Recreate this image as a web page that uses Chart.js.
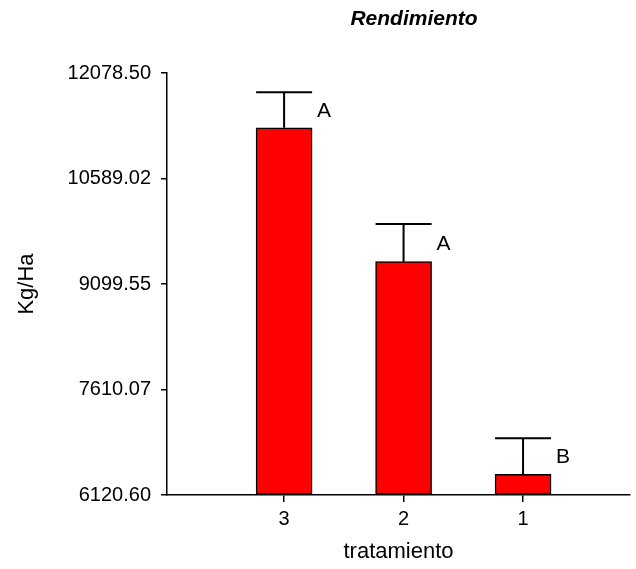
<!DOCTYPE html>
<html>
<head>
<meta charset="utf-8">
<script src="https://cdn.jsdelivr.net/npm/chart.js@4.4.1/dist/chart.umd.min.js"></script>
<style>
  html, body { margin: 0; padding: 0; background: #fff; }
  #wrap { width: 636px; height: 569px; }
</style>
</head>
<body>
<div id="wrap"><canvas id="barChart" width="636" height="569"></canvas></div>
<script>
// data
const categories = ["3", "2", "1"];
const positions = [1, 2, 3];
const means = [11306, 9415, 6413];
const errors = [500, 532, 508];
const letters = ["A", "A", "B"];
const yTicks = [6120.60, 7610.07, 9099.55, 10589.02, 12078.50];

const FONT = "'Liberation Sans', Arial, sans-serif";

// error bars + significance letters
const errorBars = {
    id: "errorBars",
    afterDatasetsDraw(chart) {
        const ctx = chart.ctx;
        const xs = chart.scales.x;
        const ys = chart.scales.y;
        ctx.save();
        ctx.strokeStyle = "#000";
        ctx.lineWidth = 2;
        ctx.fillStyle = "#000";
        ctx.font = "21px " + FONT;
        ctx.textBaseline = "middle";
        positions.forEach((p, i) => {
            const x = xs.getPixelForValue(p);
            const yBar = ys.getPixelForValue(means[i]);
            const yTop = ys.getPixelForValue(means[i] + errors[i]);
            ctx.beginPath();
            ctx.moveTo(x, yBar);
            ctx.lineTo(x, yTop);
            ctx.moveTo(x - 28, yTop);
            ctx.lineTo(x + 28, yTop);
            ctx.stroke();
            ctx.fillText(letters[i], x + 33, (yBar + yTop) / 2 + 1);
        });
        ctx.restore();
    }
};

// title drawn over the plot
const topTitle = {
    id: "topTitle",
    afterDraw(chart) {
        const ctx = chart.ctx;
        ctx.save();
        ctx.fillStyle = "#000";
        ctx.font = "italic bold 21px " + FONT;
        ctx.textAlign = "center";
        ctx.textBaseline = "middle";
        ctx.fillText("Rendimiento", 414, 19);
        ctx.restore();
    }
};

const ctx = document.getElementById("barChart").getContext("2d");
new Chart(ctx, {
    type: "bar",
    data: {
        datasets: [
            {
                data: positions.map((p, i) => ({ x: p, y: means[i] })),
                backgroundColor: "#FF0000",
                borderColor: "#000",
                borderWidth: 1.5,
                borderSkipped: false,
                barThickness: 56,
                base: yTicks[0],
            },
        ],
    },
    options: {
        responsive: false,
        animation: false,
        layout: { padding: { top: 73, right: 6, left: 0, bottom: 0 } },
        plugins: {
            legend: { display: false },
            tooltip: { enabled: false },
        },
        scales: {
            x: {
                type: "linear",
                offset: false,
                min: 0.02,
                max: 3.895,
                afterBuildTicks: (axis) => { axis.ticks = positions.map((v) => ({ value: v })); },
                afterFit: (axis) => { axis.height = 74; },
                ticks: {
                    color: "#000",
                    font: { family: FONT, size: 20 },
                    padding: 5,
                    callback: (v) => categories[positions.indexOf(v)],
                },
                grid: { offset: false, drawOnChartArea: false, drawTicks: true, tickLength: 7, color: "#000", lineWidth: 1.5 },
                border: { color: "#000", width: 1.5 },
                title: {
                    display: true,
                    text: "tratamiento",
                    color: "#000",
                    font: { family: FONT, size: 22 },
                    padding: { top: 4 },
                },
            },
            y: {
                min: yTicks[0],
                max: yTicks[yTicks.length - 1],
                afterBuildTicks: (axis) => { axis.ticks = yTicks.map((v) => ({ value: v })); },
                afterFit: (axis) => { axis.width = 167; },
                ticks: {
                    color: "#000",
                    font: { family: FONT, size: 20 },
                    padding: 10,
                    callback: (v) => v.toFixed(2),
                },
                grid: { drawOnChartArea: false, drawTicks: true, tickLength: 6, color: "#000", lineWidth: 1.5 },
                border: { color: "#000", width: 1.5 },
                title: {
                    display: true,
                    text: "Kg/Ha",
                    color: "#000",
                    font: { family: FONT, size: 22 },
                    padding: { top: 14, bottom: 0 },
                },
            },
        },
    },
    plugins: [errorBars, topTitle],
});
</script>
</body>
</html>
